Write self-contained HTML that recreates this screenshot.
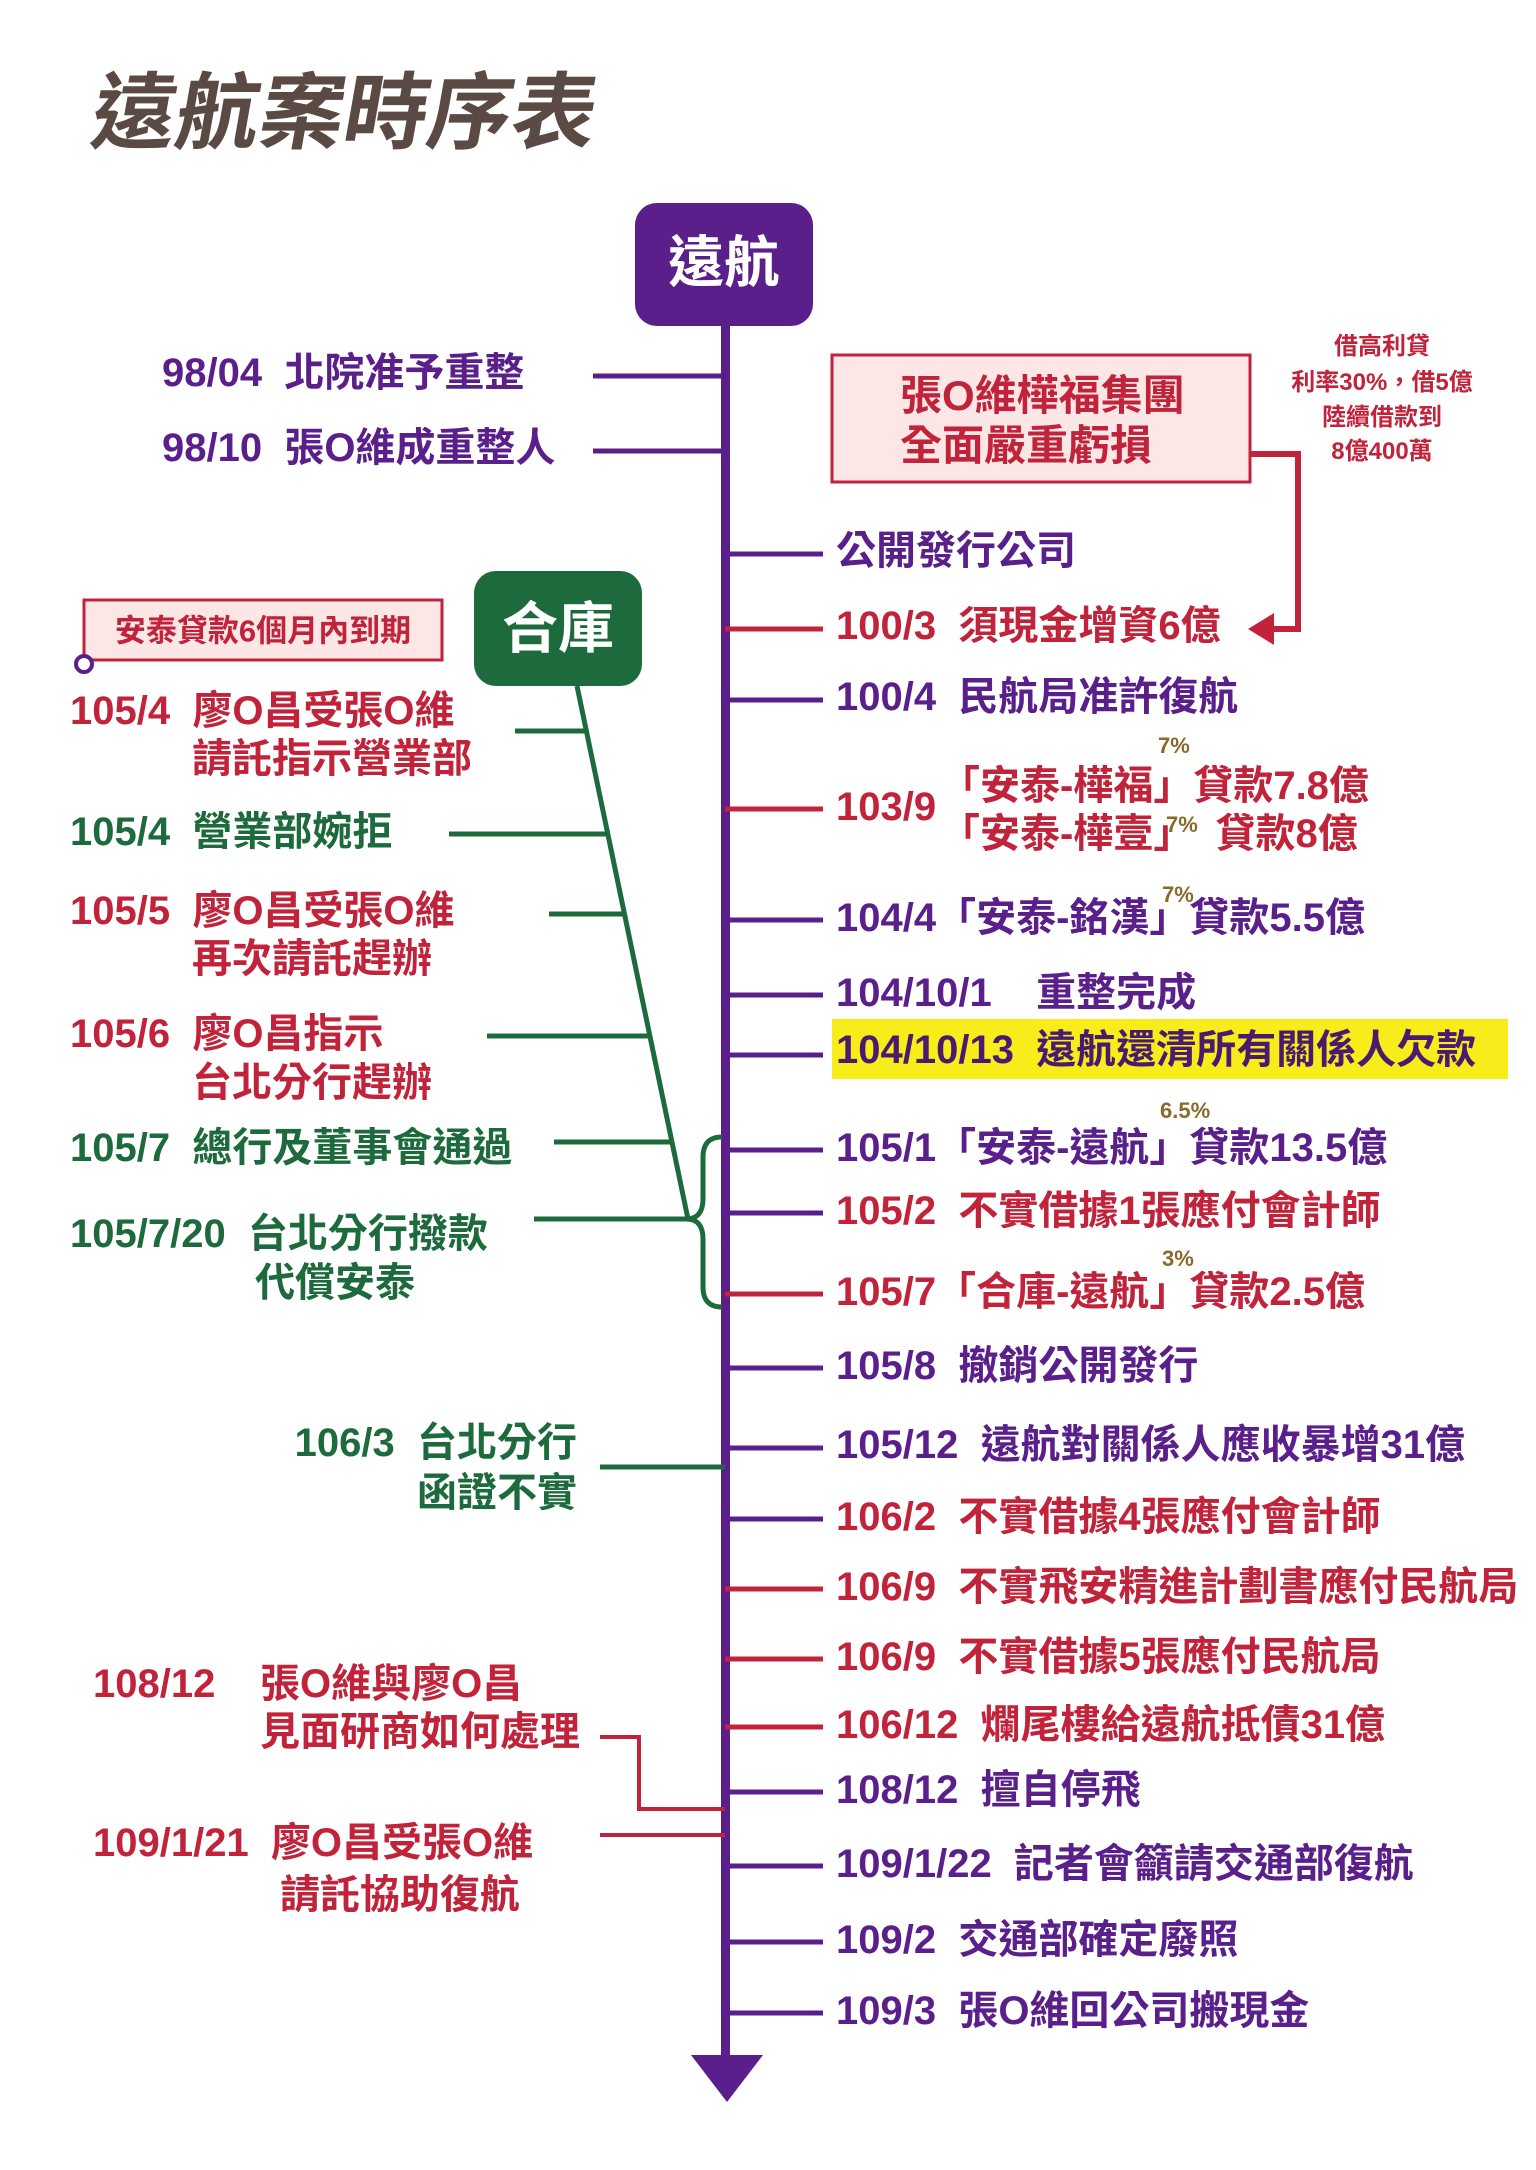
<!DOCTYPE html>
<html><head><meta charset="utf-8"><style>
html,body{margin:0;padding:0;background:#fff}
svg{display:block}
text{font-family:"Liberation Sans","Noto Sans CJK TC",sans-serif;font-weight:bold;white-space:pre}
.p{fill:#5a1f8a}.r{fill:#c0233a}.g{fill:#1d6b3c}
</style></head><body>
<svg width="1536" height="2170" viewBox="0 0 1536 2170" xmlns="http://www.w3.org/2000/svg" xml:space="preserve">
<text x="89" y="142" font-size="84" fill="#5b4a43" transform="skewX(-10) translate(24,0)">遠航案時序表</text>

<rect x="721" y="320" width="9" height="1740" fill="#5a1f8a"/>
<polygon points="691,2055 763,2055 727,2102" fill="#5a1f8a"/>
<rect x="635" y="203" width="178" height="123" rx="22" fill="#5a1f8a"/>
<text x="724" y="282" font-size="56" fill="#fff" text-anchor="middle">遠航</text>

<rect x="832" y="355" width="418" height="127" fill="#fde6e6" stroke="#c0233a" stroke-width="3"/>
<text x="900" y="410" font-size="42" class="r">張O維樺福集團</text>
<text x="900" y="460" font-size="42" class="r">全面嚴重虧損</text>
<g font-size="24" class="r" text-anchor="middle">
<text x="1382" y="354">借高利貸</text>
<text x="1382" y="390">利率30%，借5億</text>
<text x="1382" y="425">陸續借款到</text>
<text x="1382" y="459">8億400萬</text>
</g>
<polyline points="1250,454 1298,454 1298,629 1268,629" fill="none" stroke="#c0233a" stroke-width="6"/>
<polygon points="1248,629 1274,613 1274,645" fill="#c0233a"/>

<g stroke-width="5">
<line x1="725" y1="554" x2="823" y2="554" stroke="#5a1f8a"/>
<line x1="725" y1="629" x2="823" y2="629" stroke="#c0233a"/>
<line x1="725" y1="700" x2="823" y2="700" stroke="#5a1f8a"/>
<line x1="725" y1="809" x2="823" y2="809" stroke="#c0233a"/>
<line x1="725" y1="920" x2="823" y2="920" stroke="#5a1f8a"/>
<line x1="725" y1="995" x2="823" y2="995" stroke="#5a1f8a"/>
<line x1="725" y1="1055" x2="823" y2="1055" stroke="#5a1f8a"/>
<line x1="725" y1="1150" x2="823" y2="1150" stroke="#5a1f8a"/>
<line x1="725" y1="1213" x2="823" y2="1213" stroke="#5a1f8a"/>
<line x1="725" y1="1294" x2="823" y2="1294" stroke="#c0233a"/>
<line x1="725" y1="1368" x2="823" y2="1368" stroke="#5a1f8a"/>
<line x1="725" y1="1448" x2="823" y2="1448" stroke="#5a1f8a"/>
<line x1="725" y1="1519" x2="823" y2="1519" stroke="#5a1f8a"/>
<line x1="725" y1="1589" x2="823" y2="1589" stroke="#c0233a"/>
<line x1="725" y1="1659" x2="823" y2="1659" stroke="#c0233a"/>
<line x1="725" y1="1727" x2="823" y2="1727" stroke="#c0233a"/>
<line x1="725" y1="1792" x2="823" y2="1792" stroke="#5a1f8a"/>
<line x1="725" y1="1866" x2="823" y2="1866" stroke="#5a1f8a"/>
<line x1="725" y1="1942" x2="823" y2="1942" stroke="#5a1f8a"/>
<line x1="725" y1="2013" x2="823" y2="2013" stroke="#5a1f8a"/>
</g>
<rect x="832" y="1019" width="676" height="60" fill="#f8ec1a"/>
<g font-size="40" dominant-baseline="central">
<text x="836" y="551" class="p">公開發行公司</text>
<text x="836" y="626" class="r">100/3  須現金增資6億</text>
<text x="836" y="697" class="p">100/4  民航局准許復航</text>
<text x="836" y="807" class="r">103/9</text>
<text x="940" y="786" class="r">「安泰-樺福」貸款7.8億</text>
<text x="940" y="834" class="r">「安泰-樺壹」  貸款8億</text>
<text x="836" y="918" class="p">104/4「安泰-銘漢」貸款5.5億</text>
<text x="836" y="993" class="p">104/10/1    重整完成</text>
<text x="836" y="1050" fill="#4a1a70">104/10/13  遠航還清所有關係人欠款</text>
<text x="836" y="1148" class="p">105/1「安泰-遠航」貸款13.5億</text>
<text x="836" y="1211" class="r">105/2  不實借據1張應付會計師</text>
<text x="836" y="1292" class="r">105/7「合庫-遠航」貸款2.5億</text>
<text x="836" y="1366" class="p">105/8  撤銷公開發行</text>
<text x="836" y="1445" class="p">105/12  遠航對關係人應收暴增31億</text>
<text x="836" y="1517" class="r">106/2  不實借據4張應付會計師</text>
<text x="836" y="1587" class="r">106/9  不實飛安精進計劃書應付民航局</text>
<text x="836" y="1657" class="r">106/9  不實借據5張應付民航局</text>
<text x="836" y="1725" class="r">106/12  爛尾樓給遠航抵債31億</text>
<text x="836" y="1790" class="p">108/12  擅自停飛</text>
<text x="836" y="1864" class="p">109/1/22  記者會籲請交通部復航</text>
<text x="836" y="1940" class="p">109/2  交通部確定廢照</text>
<text x="836" y="2011" class="p">109/3  張O維回公司搬現金</text>
</g>
<g font-size="22" fill="#8a6a2a">
<text x="1158" y="753">7%</text>
<text x="1166" y="832">7%</text>
<text x="1162" y="902">7%</text>
<text x="1160" y="1118">6.5%</text>
<text x="1162" y="1266">3%</text>
</g>

<g stroke-width="5" stroke="#5a1f8a">
<line x1="593" y1="376" x2="725" y2="376"/>
<line x1="593" y1="451" x2="725" y2="451"/>
</g>
<g font-size="40" dominant-baseline="central" class="p">
<text x="162" y="373">98/04  北院准予重整</text>
<text x="162" y="448">98/10  張O維成重整人</text>
</g>

<rect x="474" y="571" width="168" height="115" rx="22" fill="#1d6b3c"/>
<text x="558" y="648" font-size="56" fill="#fff" text-anchor="middle">合庫</text>
<rect x="84" y="600" width="358" height="60" fill="#fde6e6" stroke="#c0233a" stroke-width="3"/>
<text x="263" y="631" font-size="31" class="r" text-anchor="middle" dominant-baseline="central">安泰貸款6個月內到期</text>
<circle cx="84" cy="664" r="8" fill="#fff" stroke="#5a1f8a" stroke-width="4"/>

<g stroke="#1d6b3c" stroke-width="5" fill="none">
<line x1="577" y1="686" x2="688" y2="1219"/>
<line x1="515" y1="731" x2="586" y2="731"/>
<line x1="449" y1="834" x2="607" y2="834"/>
<line x1="549" y1="914" x2="623" y2="914"/>
<line x1="487" y1="1036" x2="648" y2="1036"/>
<line x1="554" y1="1142" x2="671" y2="1142"/>
<line x1="534" y1="1219" x2="688" y2="1219"/>
<path d="M722,1137 Q703,1137 703,1157 L703,1199 Q703,1219 686,1219 Q703,1219 703,1239 L703,1287 Q703,1307 722,1307"/>
<line x1="600" y1="1467" x2="725" y2="1467"/>
</g>
<g font-size="40" dominant-baseline="central">
<text x="70" y="711" class="r">105/4  廖O昌受張O維</text>
<text x="192" y="759" class="r">請託指示營業部</text>
<text x="70" y="832" class="g">105/4  營業部婉拒</text>
<text x="70" y="911" class="r">105/5  廖O昌受張O維</text>
<text x="192" y="959" class="r">再次請託趕辦</text>
<text x="70" y="1034" class="r">105/6  廖O昌指示</text>
<text x="192" y="1083" class="r">台北分行趕辦</text>
<text x="70" y="1148" class="g">105/7  總行及董事會通過</text>
<text x="70" y="1234" class="g">105/7/20  台北分行撥款</text>
<text x="255" y="1283" class="g">代償安泰</text>
<text x="577" y="1443" class="g" text-anchor="end">106/3  台北分行</text>
<text x="577" y="1493" class="g" text-anchor="end">函證不實</text>
<text x="93" y="1684" class="r">108/12</text>
<text x="260" y="1684" class="r">張O維與廖O昌</text>
<text x="260" y="1732" class="r">見面研商如何處理</text>
<text x="93" y="1843" class="r">109/1/21  廖O昌受張O維</text>
<text x="280" y="1895" class="r">請託協助復航</text>
</g>
<g stroke="#c0233a" stroke-width="4" fill="none">
<polyline points="600,1737 639,1737 639,1809 725,1809"/>
<line x1="600" y1="1835" x2="725" y2="1835"/>
</g>
</svg>
</body></html>
